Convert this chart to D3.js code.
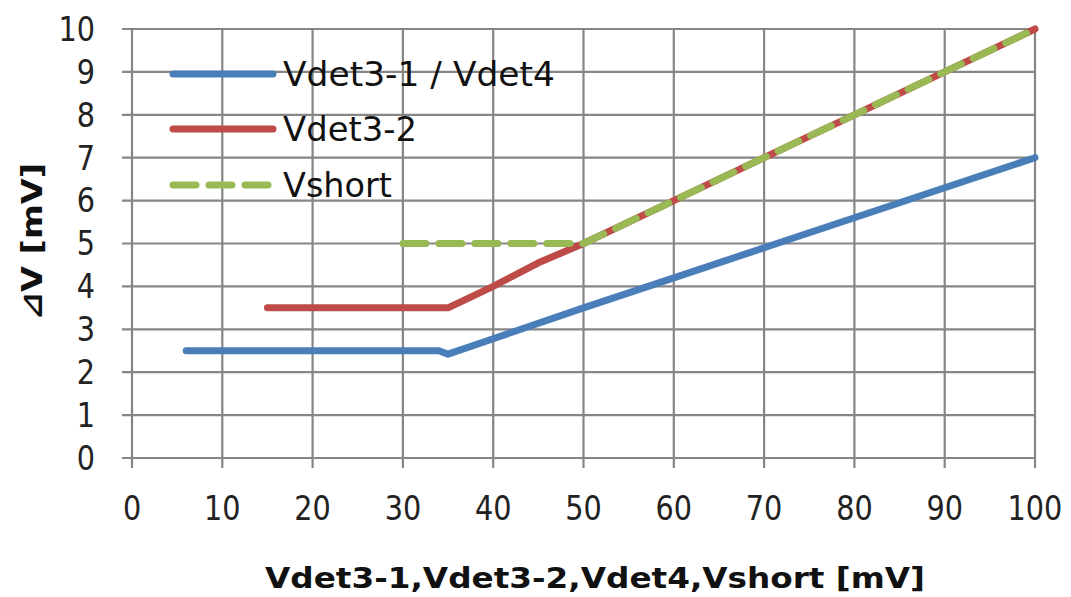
<!DOCTYPE html>
<html><head><meta charset="utf-8">
<script src="https://cdn.jsdelivr.net/npm/d3@7"></script>
<style>body{margin:0;background:#fff}svg{display:block}</style>
</head><body>
<svg id="c" width="1071" height="597"></svg>
<script>
const seriesNames = ["Vdet3-1 / Vdet4", "Vdet3-2", "Vshort"];
const seriesColors = ["#4a7ebb", "#be4b48", "#98b954"];
const blueX = [6, 25, 34, 35, 40, 50, 60, 70, 80, 90, 100];
const blueY = [2.5, 2.5, 2.5, 2.42, 2.78, 3.5, 4.2, 4.9, 5.6, 6.3, 7.0];
const redX = [15, 25, 35, 40, 45, 50, 60, 70, 80, 90, 100];
const redY = [3.5, 3.5, 3.5, 4.0, 4.55, 5.0, 6, 7, 8, 9, 10];
const greenX = [30, 40, 50, 60, 70, 80, 90, 100];
const greenY = [5, 5, 5, 6, 7, 8, 9, 10];
const xTicks = [0,10,20,30,40,50,60,70,80,90,100];
const yTicks = [0,1,2,3,4,5,6,7,8,9,10];
const xTitle = "Vdet3-1,Vdet3-2,Vdet4,Vshort [mV]";
const yTitle = "⊿V [mV]";

const svg = d3.select("#c");
const x = d3.scaleLinear().domain([0,100]).range([132,1035]);
const y = d3.scaleLinear().domain([0,10]).range([458,29]);
const font = "Verdana, 'DejaVu Sans', sans-serif";
const grid = "#868686";

svg.append("g").selectAll("line").data(yTicks).join("line")
  .attr("x1", x(0)-10).attr("x2", x(100)).attr("y1", d=>y(d)).attr("y2", d=>y(d))
  .attr("stroke", grid).attr("stroke-width", 2.2);
svg.append("g").selectAll("line").data(xTicks).join("line")
  .attr("y1", y(10)).attr("y2", y(0)+10).attr("x1", d=>x(d)).attr("x2", d=>x(d))
  .attr("stroke", grid).attr("stroke-width", 2.2);
const sx = 0.87;
svg.append("g").selectAll("text").data(yTicks).join("text")
  .attr("transform", d=>`translate(95,${y(d)}) scale(${sx},1)`).attr("dy", "0.36em").attr("text-anchor","end")
  .attr("font-family", font).attr("font-size", 33).attr("fill","#222").text(d=>d);
svg.append("g").selectAll("text").data(xTicks).join("text")
  .attr("transform", d=>`translate(${x(d)},520) scale(${sx},1)`).attr("text-anchor","middle")
  .attr("font-family", font).attr("font-size", 33).attr("fill","#222").text(d=>d);
svg.append("text").attr("x", 265).attr("y", 588)
  .attr("textLength", 660).attr("lengthAdjust","spacingAndGlyphs")
  .attr("font-family", font).attr("font-weight","bold").attr("font-size", 28).attr("fill","#111").text(xTitle);
svg.append("text").attr("transform","translate(42,320) rotate(-90)")
  .attr("textLength", 157).attr("lengthAdjust","spacingAndGlyphs")
  .attr("font-family", font).attr("font-weight","bold").attr("font-size", 29).attr("fill","#111").text(yTitle);

const line = d3.line().x(d=>x(d[0])).y(d=>y(d[1]));
const data = [d3.zip(blueX, blueY), d3.zip(redX, redY), d3.zip(greenX, greenY)];
const dashes = [null, null, "23,13"];
data.forEach((pts,i)=>{
  svg.append("path").attr("d", line(pts)).attr("fill","none")
    .attr("stroke", seriesColors[i]).attr("stroke-width", 7)
    .attr("stroke-linecap","round").attr("stroke-linejoin","round")
    .attr("stroke-dasharray", dashes[i]);
});
const legY = [74, 129, 185];
const legW = [272, 134, 109];
seriesNames.forEach((n,i)=>{
  svg.append("line").attr("x1",173).attr("x2",273).attr("y1",legY[i]).attr("y2",legY[i])
    .attr("stroke", seriesColors[i]).attr("stroke-width", 7).attr("stroke-linecap","round")
    .attr("stroke-dasharray", i===2 ? "23,13" : null);
  svg.append("text").attr("x", 283).attr("y", legY[i]).attr("dy","0.36em")
    .attr("textLength", legW[i]).attr("lengthAdjust","spacingAndGlyphs")
    .attr("font-family", font).attr("font-size", 33).attr("fill","#111").text(n);
});
</script>
</body></html>
